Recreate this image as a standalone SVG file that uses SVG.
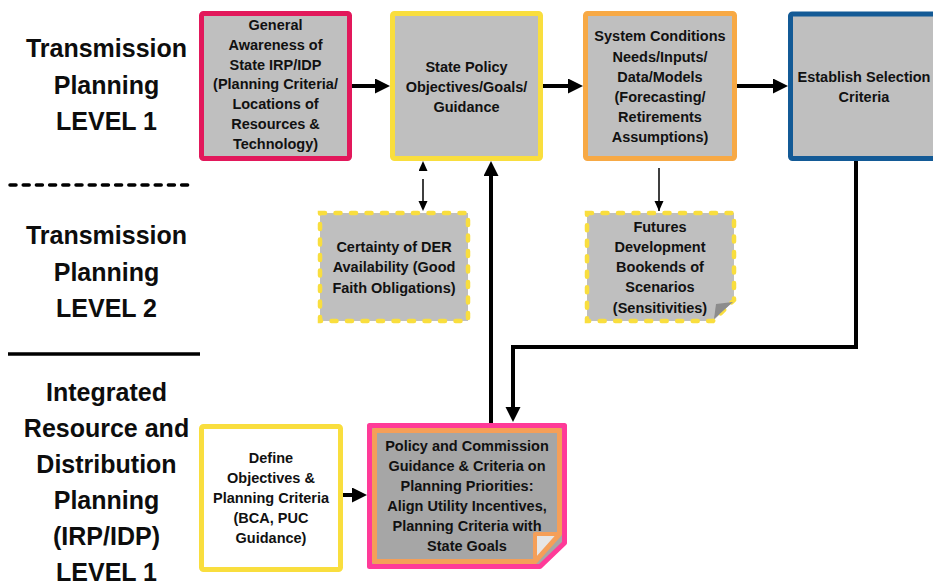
<svg xmlns="http://www.w3.org/2000/svg" width="933" height="586" viewBox="0 0 933 586">
  <style>
    .txt { font-family: "Liberation Sans", Arial, sans-serif; font-weight: bold; font-size: 14.5px; text-anchor: middle; fill: #111; }
    .lvl { font-family: "Liberation Sans", Arial, sans-serif; font-weight: bold; font-size: 25px; text-anchor: middle; fill: #0d0d0d; }
    .box { fill: #BFBFBF; stroke-width: 5; }
    .dash { fill: #BFBFBF; stroke: #F9DE3E; stroke-width: 4.5; stroke-dasharray: 5 10.5; stroke-linecap: round; }
    .thick { fill: none; stroke: #000; stroke-width: 4; stroke-linejoin: miter; }
    .thin { fill: none; stroke: #000; stroke-width: 1.5; }
  </style>
  <defs>
    <marker id="big" markerUnits="userSpaceOnUse" markerWidth="16" markerHeight="16" refX="6" refY="7.5" orient="auto">
      <path d="M0,0 L15,7.5 L0,15 Z" fill="#000"/>
    </marker>
    <marker id="small" markerUnits="userSpaceOnUse" markerWidth="11" markerHeight="10" refX="10" refY="4.5" orient="auto-start-reverse">
      <path d="M0,0 L10,4.5 L0,9 Z" fill="#000"/>
    </marker>
  </defs>

  <!-- level labels and separators -->
  <g id="levels">
    <text class="lvl" x="106.5" y="57">Transmission</text>
    <text class="lvl" x="106.5" y="94">Planning</text>
    <text class="lvl" x="106.5" y="130">LEVEL 1</text>
    <line x1="10" y1="185" x2="193" y2="185" stroke="#000" stroke-width="3.5" stroke-dasharray="6 7.2" stroke-linecap="round"/>
    <text class="lvl" x="106.5" y="244">Transmission</text>
    <text class="lvl" x="106.5" y="281">Planning</text>
    <text class="lvl" x="106.5" y="317">LEVEL 2</text>
    <line x1="8" y1="354" x2="200" y2="354" stroke="#000" stroke-width="3.5"/>
    <text class="lvl" x="106.5" y="401">Integrated</text>
    <text class="lvl" x="106.5" y="437">Resource and</text>
    <text class="lvl" x="106.5" y="473">Distribution</text>
    <text class="lvl" x="106.5" y="509">Planning</text>
    <text class="lvl" x="106.5" y="545">(IRP/IDP)</text>
    <text class="lvl" x="106.5" y="581">LEVEL 1</text>
  </g>

  <!-- connectors -->
  <g id="connectors">
    <path class="thick" d="M352,86 H381" marker-end="url(#big)"/>
    <path class="thick" d="M543,86 H574" marker-end="url(#big)"/>
    <path class="thick" d="M737,86 H779" marker-end="url(#big)"/>
    <path class="thick" d="M491,423 V170" marker-end="url(#big)"/>
    <path class="thick" d="M856,161 V347 H513 V413" marker-end="url(#big)"/>
    <path class="thick" d="M343,495 H358" marker-end="url(#big)"/>
    <path class="thin" d="M423,161 V211" stroke-dasharray="0 18 22 100" marker-start="url(#small)" marker-end="url(#small)"/>
    <path class="thin" d="M659,161 V211" stroke-dasharray="0 7 60" marker-end="url(#small)"/>
  </g>

  <g id="general-awareness">
    <rect class="box" x="201.5" y="13.5" width="148" height="145" rx="2" stroke="#E2185B"/>
    <text class="txt" x="275.5" y="30">General</text>
    <text class="txt" x="275.5" y="50">Awareness of</text>
    <text class="txt" x="275.5" y="70">State IRP/IDP</text>
    <text class="txt" x="275.5" y="89">(Planning Criteria/</text>
    <text class="txt" x="275.5" y="109">Locations of</text>
    <text class="txt" x="275.5" y="129">Resources &amp;</text>
    <text class="txt" x="275.5" y="149">Technology)</text>
  </g>

  <g id="state-policy">
    <rect class="box" x="392.5" y="13.5" width="148" height="145" rx="2" stroke="#F9DE3E"/>
    <text class="txt" x="466.5" y="72">State Policy</text>
    <text class="txt" x="466.5" y="92">Objectives/Goals/</text>
    <text class="txt" x="466.5" y="112">Guidance</text>
  </g>

  <g id="system-conditions">
    <rect class="box" x="585.5" y="13.5" width="149" height="145" rx="2" stroke="#F7A945"/>
    <text class="txt" x="660" y="41">System Conditions</text>
    <text class="txt" x="660" y="62">Needs/Inputs/</text>
    <text class="txt" x="660" y="82">Data/Models</text>
    <text class="txt" x="660" y="102">(Forecasting/</text>
    <text class="txt" x="660" y="122">Retirements</text>
    <text class="txt" x="660" y="142">Assumptions)</text>
  </g>

  <g id="selection-criteria">
    <rect class="box" x="790.5" y="14" width="148" height="144.5" rx="2" stroke="#135A96"/>
    <text class="txt" x="864" y="82">Establish Selection</text>
    <text class="txt" x="864" y="102">Criteria</text>
  </g>

  <g id="der-certainty">
    <rect class="dash" x="320" y="213" width="148" height="108"/>
    <text class="txt" x="394" y="252">Certainty of DER</text>
    <text class="txt" x="394" y="272">Availability (Good</text>
    <text class="txt" x="394" y="293">Faith Obligations)</text>
  </g>

  <g id="futures">
    <path class="dash" d="M587,213 H734 V300 L713,321 H587 Z"/>
    <polygon points="733,302 714,319 716,304" fill="#8C8C8C"/>
    <text class="txt" x="660" y="232">Futures</text>
    <text class="txt" x="660" y="252">Development</text>
    <text class="txt" x="660" y="272">Bookends of</text>
    <text class="txt" x="660" y="292">Scenarios</text>
    <text class="txt" x="660" y="313">(Sensitivities)</text>
  </g>

  <g id="define-objectives">
    <rect x="201.5" y="426.5" width="139" height="143" rx="2" fill="#FFFFFF" stroke="#F9DE3E" stroke-width="5"/>
    <text class="txt" x="271" y="463">Define</text>
    <text class="txt" x="271" y="483">Objectives &amp;</text>
    <text class="txt" x="271" y="503">Planning Criteria</text>
    <text class="txt" x="271" y="523">(BCA, PUC</text>
    <text class="txt" x="271" y="543">Guidance)</text>
  </g>

  <g id="commission-guidance">
    <path d="M369.5,425.5 H564.5 V543 L540,566.5 H369.5 Z" fill="#A6A6A6" stroke="#FF3A98" stroke-width="5" stroke-linejoin="round"/>
    <path d="M374.5,430.5 H559.5 V534 L535,561.5 H374.5 Z" fill="#A6A6A6" stroke="#F59F58" stroke-width="5" stroke-linejoin="round"/>
    <polygon points="535,534 559,534 535,561" fill="#E6E6E6" stroke="#F59F58" stroke-width="4" stroke-linejoin="round"/>
    <text class="txt" x="467" y="451">Policy and Commission</text>
    <text class="txt" x="467" y="471">Guidance &amp; Criteria on</text>
    <text class="txt" x="467" y="491">Planning Priorities:</text>
    <text class="txt" x="467" y="511">Align Utility Incentives,</text>
    <text class="txt" x="467" y="531">Planning Criteria with</text>
    <text class="txt" x="467" y="551">State Goals</text>
  </g>
</svg>
